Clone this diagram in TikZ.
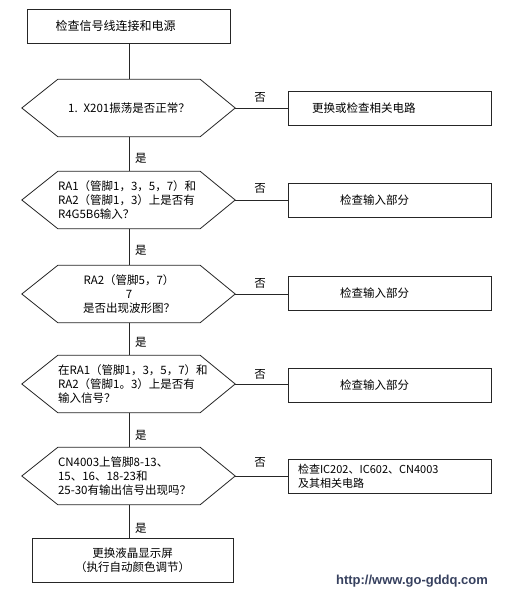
\documentclass[tikz,border=0pt]{standalone}
\usepackage{fontspec}
\setmainfont{Noto Sans CJK SC}
\newfontfamily\wmfont{Liberation Sans}
\usetikzlibrary{calc}
\definecolor{wmcol}{RGB}{55,65,95}
\begin{document}
\begin{tikzpicture}[x=1pt,y=-1pt,
  ln/.style={line width=0.8pt, draw=black!85},
  txt/.style={font=\fontsize{11.5}{14}\selectfont},
  boxnode/.style={ln, txt, minimum height=34pt, inner ysep=0pt, align=left},
  hexnode/.style={txt, minimum width=142pt, minimum height=57pt, inner sep=0pt, text width=142pt},
  lab/.style={txt, inner sep=0pt}]
\useasboundingbox[fill=white] (0,0) rectangle (506,596);

% left column
\node[boxnode, inner xsep=28pt, text width=147pt, font=\fontsize{12}{14}\selectfont] (start) at (129,26) {检查信号线连接和电源};
\node[hexnode, align=center] (h1) at (129,108) {1. X201振荡是否正常？};
\node[hexnode, align=left] (h2) at (129,200) {RA1（管脚1，3，5，7）和\\RA2（管脚1，3）上是否有\\R4G5B6输入？};
\node[hexnode, align=center] (h3) at (129,294) {RA2（管脚5，7）\\7\\是否出现波形图？};
\node[hexnode, align=left] (h4) at (129,384) {在RA1（管脚1，3，5，7）和\\RA2（管脚1。3）上是否有\\输入信号？};
\node[hexnode, align=left] (h5) at (129,476) {CN4003上管脚8-13、\\15、16、18-23和\\25-30有输出信号出现吗？};
\node[ln, txt, draw, minimum width=201pt, minimum height=44pt, inner sep=0pt, align=center] (end) at (132.5,560) {更换液晶显示屏\\（执行自动颜色调节）};

\foreach \n in {h1,h2,h3,h4,h5}{
  \coordinate (\n-l) at ([xshift=-36pt]\n.west);
  \coordinate (\n-r) at ([xshift=35pt]\n.east);
  \draw[ln] (\n.north west) -- (\n.north east) -- (\n-r) -- (\n.south east) -- (\n.south west) -- (\n-l) -- cycle;
}

% right column
\node[boxnode, inner xsep=24pt, text width=155pt] (b1) at (389.5,108.5) {更换或检查相关电路};
\node[boxnode, inner xsep=52pt, text width=99pt] (b2) at (389.5,200) {检查输入部分};
\node[boxnode, inner xsep=52pt, text width=99pt] (b3) at (389.5,293.5) {检查输入部分};
\node[boxnode, inner xsep=52pt, text width=99pt] (b4) at (389.5,385) {检查输入部分};
\node[boxnode, inner xsep=10pt, text width=183pt, font=\fontsize{11}{14}\selectfont] (b5) at (389.5,476.5) {检查IC202、IC602、CN4003\\及其相关电路};

% vertical connectors
\draw[ln] (start) -- (h1);
\draw[ln] (h1) -- (h2);
\draw[ln] (h2) -- (h3);
\draw[ln] (h3) -- (h4);
\draw[ln] (h4) -- (h5);
\draw[ln] (h5.south) -- (h5.south |- end.north);

% horizontal connectors
\foreach \i in {1,...,5}{
  \draw[ln] (h\i-r) -- (h\i-r -| b\i.west);
}

% labels
\node[lab, anchor=west] (y1) at (135,158) {是};
\node[lab, anchor=west] (y2) at (135,250) {是};
\node[lab, anchor=west] (y3) at (135,342) {是};
\node[lab, anchor=west] (y4) at (135,435) {是};
\node[lab, anchor=west] (y5) at (135,528) {是};
\node[lab] (n1) at (260,97) {否};
\node[lab] (n2) at (260,188) {否};
\node[lab] (n3) at (260,283) {否};
\node[lab] (n4) at (260,374) {否};
\node[lab] (n5) at (260,462) {否};

% watermark
\node[font=\wmfont\bfseries\fontsize{13}{15}\selectfont, text=wmcol, inner sep=0pt] (wm) at (412,581) {http://www.go-gddq.com};
\end{tikzpicture}
\end{document}
